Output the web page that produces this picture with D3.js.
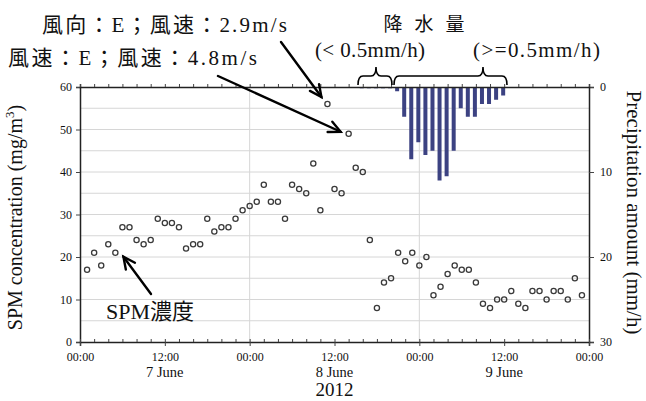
<!DOCTYPE html>
<html>
<head>
<meta charset="utf-8">
<script src="https://cdn.jsdelivr.net/npm/d3@7"></script>
<style>
  body { margin: 0; background: #fff; }
  svg { display: block; }
  text { font-family: "Liberation Serif", "Times New Roman", Times, "DejaVu Serif", "Noto Sans CJK JP", serif; fill: #111; }
</style>
</head>
<body>
<svg id="chart" width="646" height="401"></svg>
<script>
// hourly SPM concentration (mg/m3), starting 7 June 01:00
const spmStartHour = 1;
const spmValues = [
  17, 21, 18, 23, 21, 27, 27, 24, 23, 24, 29, 28, 28, 27, 22, 23, 23, 29, 26, 27, 27, 29, 31, 32, 33,
  37, 33, 33, 29, 37, 36, 35, 42, 31, 56, 36, 35, 49, 41, 40, 24, 8, 14, 15,
  21, 19, 21, 18, 20, 11, 13, 16, 18, 17, 17, 14, 9, 8, 10, 10, 12, 9, 8, 12, 12, 10, 12, 12, 10, 15, 11,
];

// hourly precipitation (mm/h), starting 8 June 16:00
const rainStartHour = 40;
const rainValues = [0.15, 0.15, 0.15, 0.15, 0.15, 0.5, 3.5, 8.5, 6.5, 8, 7.5, 11, 10.5, 7.5, 2.5, 3.5, 3.5, 2, 2, 1.5, 1];

const dayLabels = ['7 June', '8 June', '9 June'];
const yearLabel = '2012';
const spmTicks = [0, 10, 20, 30, 40, 50, 60];
const rainTicks = [0, 10, 20, 30];

const serif = '"Liberation Serif", "Times New Roman", Times, "DejaVu Serif", serif';
const hourDate = (h) => new Date(2012, 5, 7, h);

const margin = { left: 80, right: 57, top: 87, bottom: 59 };
const svg = d3.select('#chart');
const width = +svg.attr('width');
const height = +svg.attr('height');
const innerW = width - margin.left - margin.right;
const innerH = height - margin.top - margin.bottom;

const x = d3.scaleTime().domain([hourDate(0), hourDate(72)]).range([margin.left, margin.left + innerW]);
const y = d3.scaleLinear().domain([0, 60]).range([margin.top + innerH, margin.top]);
const yRain = d3.scaleLinear().domain([0, 30]).range([margin.top, margin.top + innerH]);

// grid
const grid = svg.append('g').attr('stroke', '#d6d6d6').attr('stroke-width', 1);
grid.selectAll('line.h')
  .data(d3.range(5, 60, 5))
  .enter().append('line')
  .attr('x1', margin.left).attr('x2', margin.left + innerW)
  .attr('y1', (d) => y(d)).attr('y2', (d) => y(d));
grid.selectAll('line.v')
  .data([24, 48])
  .enter().append('line')
  .attr('x1', (d) => x(hourDate(d))).attr('x2', (d) => x(hourDate(d)))
  .attr('y1', margin.top).attr('y2', margin.top + innerH);

// precipitation bars hanging from the top
const barW = 4;
svg.append('g')
  .selectAll('rect')
  .data(rainValues)
  .enter().append('rect')
  .attr('x', (d, i) => x(hourDate(rainStartHour + i)) - barW / 2 - 1)
  .attr('y', yRain(0))
  .attr('width', barW)
  .attr('height', (d) => yRain(d) - yRain(0))
  .attr('fill', '#3c4282');

// axes
function styleAxis(g) {
  g.attr('font-family', serif);
  g.select('.domain').attr('stroke', '#222').attr('stroke-width', 1.5);
  g.selectAll('.tick line').attr('stroke', '#444');
  g.selectAll('.tick text')
    .style('font-family', serif)
    .style('font-size', '12px')
    .attr('fill', '#222');
}

svg.append('g')
  .attr('transform', `translate(${margin.left},0)`)
  .call(d3.axisLeft(y).tickValues(spmTicks).tickSize(4).tickPadding(4))
  .call(styleAxis);

svg.append('g')
  .attr('transform', `translate(${margin.left + innerW},0)`)
  .call(d3.axisRight(yRain).tickValues(rainTicks).tickSize(5).tickPadding(6))
  .call(styleAxis);

svg.append('g')
  .attr('transform', `translate(0,${margin.top + innerH})`)
  .call(d3.axisBottom(x).ticks(d3.timeHour.every(12)).tickFormat(d3.timeFormat('%H:%M')).tickSize(4).tickPadding(6))
  .call(styleAxis);

svg.append('g')
  .attr('transform', `translate(0,${margin.top + innerH})`)
  .call(d3.axisBottom(x).ticks(d3.timeHour.every(2)).tickFormat('').tickSize(-3))
  .call(styleAxis)
  .select('.domain').remove();

svg.append('g')
  .attr('transform', `translate(0,${margin.top})`)
  .call(d3.axisTop(x).ticks(d3.timeHour.every(2)).tickFormat('').tickSize(3))
  .call(styleAxis);

// SPM points
svg.append('g')
  .selectAll('circle')
  .data(spmValues)
  .enter().append('circle')
  .attr('cx', (d, i) => x(hourDate(spmStartHour + i)))
  .attr('cy', (d) => y(d))
  .attr('r', 2.6)
  .attr('fill', 'none')
  .attr('stroke', '#3a3a3a')
  .attr('stroke-width', 1.3);

// x labels
svg.append('g')
  .selectAll('text')
  .data(dayLabels)
  .enter().append('text')
  .attr('x', (d, i) => x(hourDate(12 + 24 * i)))
  .attr('y', 377)
  .attr('text-anchor', 'middle')
  .style('font-size', '14.5px')
  .text((d) => d);

svg.append('text')
  .attr('x', margin.left + innerW / 2)
  .attr('y', 396)
  .attr('text-anchor', 'middle')
  .style('font-size', '19px')
  .text(yearLabel);

// axis titles
const leftTitle = svg.append('text')
  .attr('transform', `translate(22,${margin.top + innerH / 2 + 3}) rotate(-90)`)
  .attr('text-anchor', 'middle')
  .style('font-size', '20px');
leftTitle.append('tspan').text('SPM concentration (mg/m');
leftTitle.append('tspan').attr('dy', -8).style('font-size', '13px').text('3');
leftTitle.append('tspan').attr('dy', 8).text(')');

svg.append('text')
  .attr('transform', `translate(627,${margin.top + innerH / 2 - 2}) rotate(90)`)
  .attr('text-anchor', 'middle')
  .style('font-size', '21px')
  .text('Precipitation amount (mm/h)');

// annotations
function arrow(x1, y1, x2, y2) {
  const a = Math.atan2(y2 - y1, x2 - x1);
  const len = 13;
  const spread = 0.45;
  const g = svg.append('g')
    .attr('stroke', '#000').attr('stroke-width', 2.4)
    .attr('fill', 'none').attr('stroke-linecap', 'round');
  g.append('line').attr('x1', x1).attr('y1', y1).attr('x2', x2).attr('y2', y2);
  g.append('path').attr('d',
    `M${x2 - len * Math.cos(a - spread)},${y2 - len * Math.sin(a - spread)}` +
    `L${x2},${y2}` +
    `L${x2 - len * Math.cos(a + spread)},${y2 - len * Math.sin(a + spread)}`);
}

svg.append('text').attr('x', 42).attr('y', 32)
  .attr('textLength', 245)
  .style('font-size', '21px')
  .text('風向：E；風速：2.9m/s');
svg.append('text').attr('x', 8).attr('y', 65)
  .attr('textLength', 249)
  .style('font-size', '21px')
  .text('風速：E；風速：4.8m/s');

arrow(281, 42, x(hourDate(35)) - 6, y(56) - 7);
arrow(218, 76, x(hourDate(38)) - 8, y(49) - 2);

arrow(151, 294, x(hourDate(6)) + 1, y(21) + 4);
svg.append('text').attr('x', 106).attr('y', 319)
  .style('font-size', '22px')
  .text('SPM濃度');

svg.append('text').attr('x', 430).attr('y', 31)
  .attr('text-anchor', 'middle')
  .style('font-size', '19px')
  .style('letter-spacing', '12px')
  .text('降水量');
svg.append('text').attr('x', 315).attr('y', 57)
  .attr('textLength', 110)
  .style('font-size', '21px')
  .text('(< 0.5mm/h)');
svg.append('text').attr('x', 473).attr('y', 57)
  .attr('textLength', 127)
  .style('font-size', '21px')
  .text('(>=0.5mm/h)');

function brace(x1, x2, xp, yb, yt) {
  const ym = (yb + yt) / 2;
  svg.append('path')
    .attr('d',
      `M${x1},${yb} Q${x1},${ym} ${x1 + 5},${ym} L${xp - 5},${ym} Q${xp},${ym} ${xp},${yt}` +
      ` Q${xp},${ym} ${xp + 5},${ym} L${x2 - 5},${ym} Q${x2},${ym} ${x2},${yb}`)
    .attr('fill', 'none').attr('stroke', '#000').attr('stroke-width', 1.6);
}
brace(358, 392, 376, 85, 67);
brace(394, 507, 483, 85, 67);
</script>
</body>
</html>
